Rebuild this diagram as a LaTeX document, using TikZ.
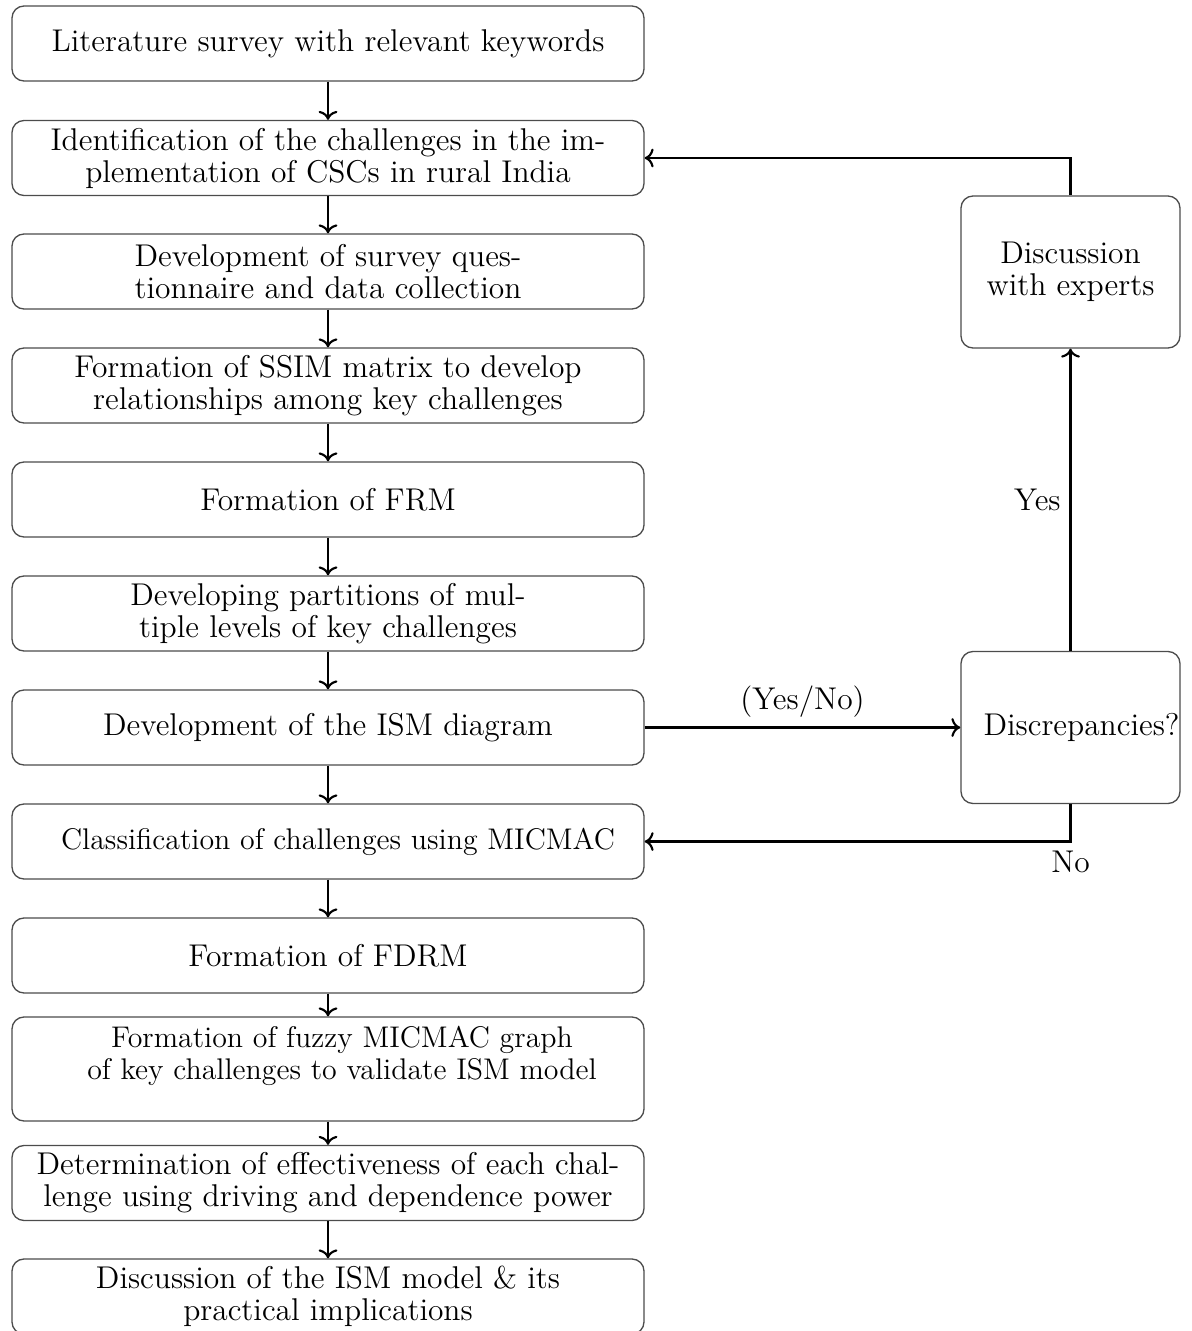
\documentclass[tikz,border=0pt]{standalone}
\usetikzlibrary{arrows.meta}
\newdimen\pxu \pxu=0.375pt
\tikzset{
  box/.style={draw=black!70, line width=0.5pt, rounded corners=4.5pt,
    minimum width=632*\pxu, minimum height=75*\pxu, align=center, inner sep=0pt,
    font=\fontsize{11.8}{12}\selectfont},
  narrowtext/.style={font=\fontsize{11.2}{12}\selectfont},
  sidebox/.style={box, minimum width=219*\pxu, minimum height=152*\pxu},
  conn/.style={->, line width=0.8pt},
  lbl/.style={font=\fontsize{11.8}{12}\selectfont}
}
\begin{document}
\begin{tikzpicture}[x=0.375pt,y=-0.375pt]
\clip (0,0) rectangle (1191,1331);
\node[box] (b1) at (328,43.5) {Literature survey with relevant keywords};
\node[box] (b2) at (328,158) {Identification of the challenges in the im-\\plementation of CSCs in rural India};
\node[box] (b3) at (328,271.5) {Development of survey ques-\\tionnaire and data collection};
\node[box] (b4) at (328,385.5) {Formation of SSIM matrix to develop\\relationships among key challenges};
\node[box] (b5) at (328,499.5) {Formation of FRM};
\node[box] (b6) at (328,613.5) {Developing partitions of mul-\\tiple levels of key challenges};
\node[box] (b7) at (328,727.5) {Development of the ISM diagram};
\node[box, narrowtext] (b8) at (328,841.5) {\hspace*{20\pxu}Classification of challenges using MICMAC};
\node[box] (b9) at (328,955.5) {Formation of FDRM};
\node[box, narrowtext, minimum height=104*\pxu] (b10) at (328,1069) {\hspace*{28\pxu}Formation of fuzzy MICMAC graph\\\hspace*{28\pxu}of key challenges to validate ISM model\\\mbox{}};
\node[box] (b11) at (328,1183) {Determination of effectiveness of each chal-\\lenge using driving and dependence power};
\node[box] (b12) at (328,1296.5) {Discussion of the ISM model \& its\\practical implications};
\node[sidebox] (disc) at (1070.5,272) {Discussion\\with experts};
\node[sidebox] (discr) at (1070.5,727.5) {\hspace*{22\pxu}Discrepancies?};
\foreach \a/\b in {b1/b2,b2/b3,b3/b4,b4/b5,b5/b6,b6/b7,b7/b8,b8/b9,b9/b10,b10/b11,b11/b12}
  \draw[conn] (\a.south) -- (\b.north);
\draw[conn] (b7.east) -- node[lbl, above] {(Yes/No)} (discr.west);
\draw[conn] (discr.north) -- node[lbl, left] {Yes} (disc.south);
\draw[conn] (disc.north) |- (b2.east);
\draw[conn] (discr.south) |- node[lbl, pos=0.5, below] {No} (b8.east);
\end{tikzpicture}
\end{document}
